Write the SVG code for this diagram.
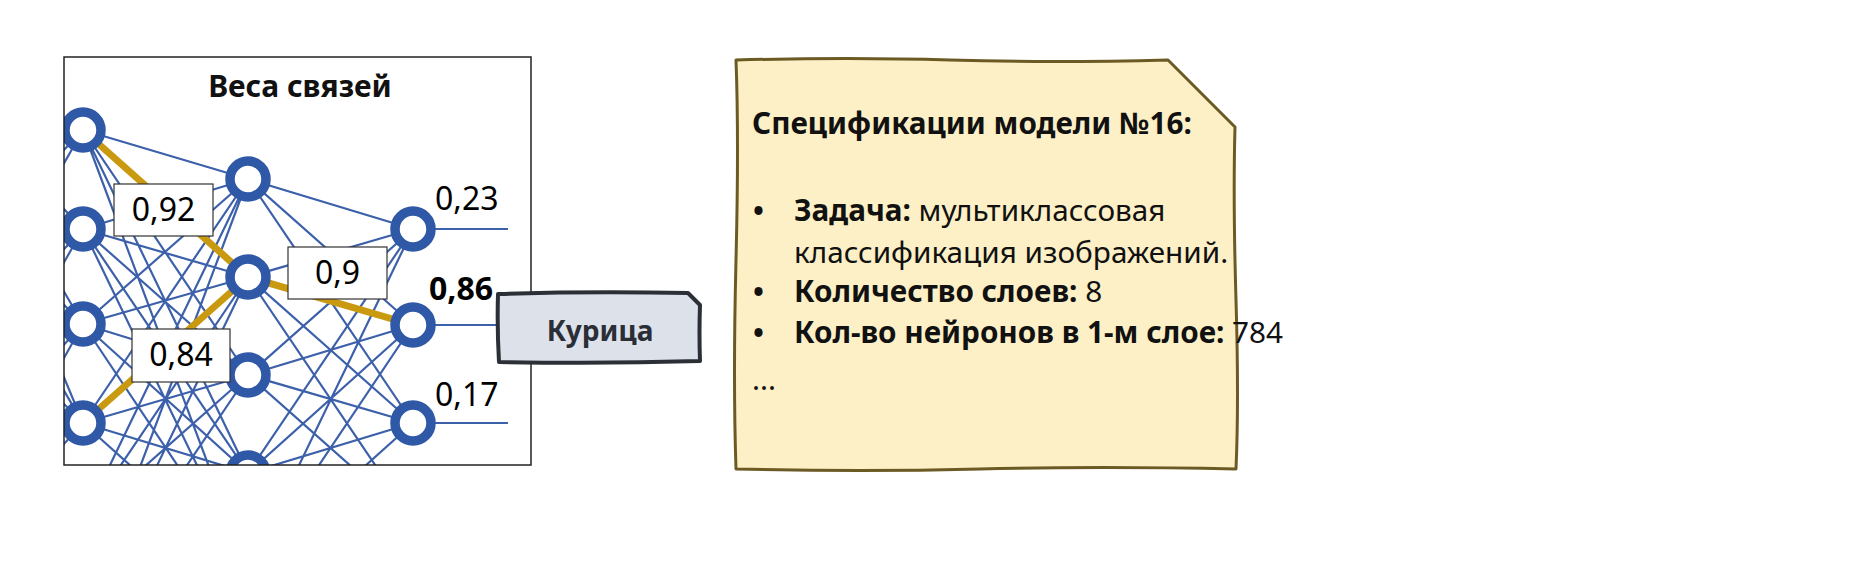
<svg xmlns="http://www.w3.org/2000/svg" width="1855" height="576" viewBox="0 0 1855 576">
<defs>
<clipPath id="frameClip"><rect x="64" y="57" width="467" height="408"/></clipPath>
<style>
.edge{stroke:#3d60aa;stroke-width:2.2;fill:none}
.gold{stroke:#c9990f;stroke-width:7;fill:none}
.neuron{fill:#ffffff;stroke:#2f58a6;stroke-width:9.5}
.num{font-family:"Noto Sans","Open Sans",sans-serif;font-size:32px;fill:#000}
.wbox{fill:#ffffff;stroke:#333;stroke-width:1.2}
.spec{font-family:"Noto Sans","Open Sans",sans-serif;font-size:29.7px;fill:#111}
.bul{font-family:"Noto Sans","Open Sans",sans-serif;font-size:29px;font-weight:bold;fill:#111}
.b{font-weight:bold}
</style>
</defs>
<rect width="1855" height="576" fill="#ffffff"/>
<g id="network" clip-path="url(#frameClip)">
<g id="connectors">
<path class="edge" d="M-60 80L83 130M-60 80L83 229M-60 80L83 324M-60 80L83 423M-60 180L83 130M-60 180L83 229M-60 180L83 324M-60 180L83 423M-60 280L83 130M-60 280L83 229M-60 280L83 324M-60 280L83 423M-60 380L83 130M-60 380L83 229M-60 380L83 324M-60 380L83 423M-60 480L83 229M-60 480L83 324M-60 480L83 423M-60 580L83 324M-60 580L83 423"/>
<path class="edge" d="M83 130L248 179M83 130L248 277M83 130L248 375M83 130L248 473M83 130L248 571M83 229L248 179M83 229L248 277M83 229L248 375M83 229L248 473M83 229L248 571M83 324L248 179M83 324L248 277M83 324L248 375M83 324L248 473M83 324L248 571M83 423L248 179M83 423L248 277M83 423L248 375M83 423L248 473M83 423L248 571M83 521L248 179M83 521L248 277M83 521L248 375M83 521L248 473M83 619L248 179M83 619L248 277M83 619L248 375"/>
<path class="edge" d="M248 179L413 229M248 179L413 325M248 179L413 423M248 277L413 229M248 277L413 325M248 277L413 423M248 277L413 521M248 375L413 229M248 375L413 325M248 375L413 423M248 375L413 521M248 473L413 229M248 473L413 325M248 473L413 423M248 571L413 229M248 571L413 325M248 571L413 423"/>
<path class="edge" d="M413 229L508 229M413 325L508 325M413 423L508 423"/>
<path class="gold" d="M83 130L248 277L413 325M83 423L248 277"/>
</g>
<g id="layer1">
<circle class="neuron" cx="83" cy="130" r="18"/>
<circle class="neuron" cx="83" cy="229" r="18"/>
<circle class="neuron" cx="83" cy="324" r="18"/>
<circle class="neuron" cx="83" cy="423" r="18"/>
</g>
<g id="layer2">
<circle class="neuron" cx="248" cy="179" r="18"/>
<circle class="neuron" cx="248" cy="277" r="18"/>
<circle class="neuron" cx="248" cy="375" r="18"/>
<circle class="neuron" cx="248" cy="473" r="18"/>
</g>
<g id="layer3">
<circle class="neuron" cx="413" cy="229" r="18"/>
<circle class="neuron" cx="413" cy="325" r="18"/>
<circle class="neuron" cx="413" cy="423" r="18"/>
</g>
<g id="w092"><rect class="wbox" x="114" y="184" width="99" height="52"/><text class="num" x="163.5" y="221" text-anchor="middle">0,92</text></g>
<g id="w09"><rect class="wbox" x="288" y="247" width="99" height="52"/><text class="num" x="337.5" y="284" text-anchor="middle">0,9</text></g>
<g id="w084"><rect class="wbox" x="132" y="329" width="98" height="53"/><text class="num" x="181" y="366" text-anchor="middle">0,84</text></g>
<text class="num" x="435" y="210">0,23</text>
<text class="num b" x="429" y="300">0,86</text>
<text class="num" x="435" y="406">0,17</text>
</g>
<g id="frame">
<rect x="64" y="57" width="467" height="408" fill="none" stroke="#222" stroke-width="1.5"/>
<text x="300" y="97" text-anchor="middle" font-family="'Noto Sans','Open Sans',sans-serif" font-weight="bold" font-size="30" fill="#111">Веса связей</text>
</g>
<g id="result">
<path d="M498 294Q590 291 688 293L700 305Q699 333 700 361Q600 364 499 362Q497 328 498 294Z" fill="#dde1ea" stroke="#2b2f36" stroke-width="4" stroke-linejoin="round"/>
<text x="600" y="341" text-anchor="middle" font-family="'Noto Sans','Open Sans',sans-serif" font-weight="bold" font-size="28" fill="#2a2e36">Курица</text>
</g>
<g id="specs">
<path d="M736 60Q850 57 950 60T1168 60L1235 127Q1233 200 1236 300T1236 469Q1100 466 980 469T736 469Q733 380 736 260T736 60Z" fill="#fdf0c6" stroke="#6b5a24" stroke-width="3" stroke-linejoin="round"/>
<text class="spec b" x="752" y="134">Спецификации модели №16:</text>
<text class="bul" x="753" y="221">•</text>
<text class="spec" x="794" y="221"><tspan class="b">Задача:</tspan> мультиклассовая</text>
<text class="spec" x="794" y="263">классификация изображений.</text>
<text class="bul" x="753" y="302">•</text>
<text class="spec" x="794" y="302"><tspan class="b">Количество слоев:</tspan> 8</text>
<text class="bul" x="753" y="343">•</text>
<text class="spec" x="794" y="343"><tspan class="b">Кол-во нейронов в 1-м слое:</tspan> 784</text>
<text class="spec" x="752" y="390">...</text>
</g>
</svg>
